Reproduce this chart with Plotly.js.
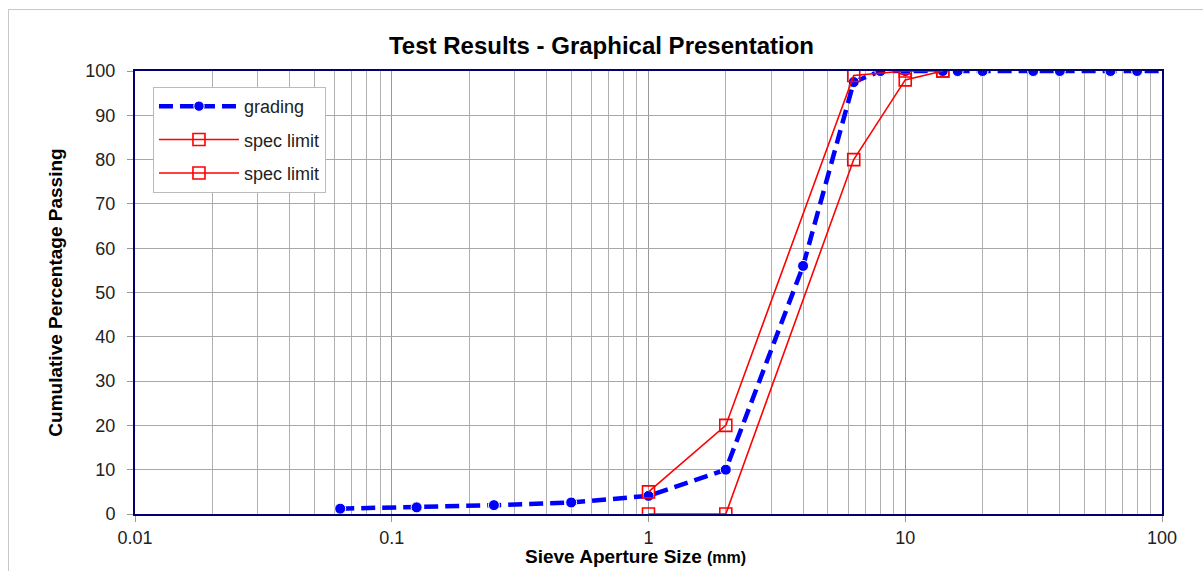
<!DOCTYPE html>
<html>
<head>
<meta charset="utf-8">
<script src="https://cdn.plot.ly/plotly-3.0.1.min.js"></script>
<style>
html,body{margin:0;padding:0;background:#fff;}
#wrap{position:relative;width:1203px;height:571px;overflow:hidden;}
#frame{position:absolute;left:8px;top:9px;width:1300px;height:700px;border-top:1px solid #c8c8c8;border-left:1px solid #c8c8c8;}
#chart{position:absolute;left:0;top:0;width:1203px;height:571px;}
</style>
</head>
<body>
<div id="wrap"><div id="frame"></div><div id="chart"></div></div>
<script>
// Data
const sieveSizes = [0.063, 0.125, 0.25, 0.5, 1, 2, 4, 6.3, 8, 10, 14, 16, 20, 31.5, 40, 63, 80, 100];
const grading    = [1.2, 1.5, 2.0, 2.6, 4.1, 10, 56, 97.5, 100, 100, 100, 100, 100, 100, 100, 100, 100, 100];
const specSizes  = [1, 2, 6.3, 10, 14];
const specUpper  = [5, 20, 99, 100, 100];
const specLower  = [0, 0, 80, 98, 100];
const xTickVals  = [0.01, 0.1, 1, 10, 100];
const xTickText  = ['0.01', '0.1', '1', '10', '100'];

const minorVals = [];
for (let e = -2; e < 2; e++) {
  for (let d = 2; d <= 9; d++) minorVals.push(d * Math.pow(10, e));
}

const font = 'Liberation Sans, Arial, sans-serif';

const traces = [
  {
    x: sieveSizes, y: grading, name: 'grading', type: 'scatter', mode: 'lines+markers',
    line: {color: '#0000ff', width: 4.5, dash: '14px,7px'},
    marker: {color: '#0000ff', opacity: 1, size: sieveSizes.map(s => (s >= 100 ? 0 : 11)), symbol: 'circle'},
    legendgroup: 'g1'
  },
  {
    x: specSizes, y: specUpper, name: 'spec limit', type: 'scatter', mode: 'lines+markers',
    line: {color: '#ff0000', width: 1.6},
    marker: {color: '#ff0000', size: 12, symbol: 'square-open', line: {width: 1.6}},
    legendgroup: 'g2'
  },
  {
    x: specSizes, y: specLower, name: 'spec limit', type: 'scatter', mode: 'lines+markers',
    line: {color: '#ff0000', width: 1.6},
    marker: {color: '#ff0000', size: 12, symbol: 'square-open', line: {width: 1.6}},
    legendgroup: 'g3'
  }
];

const layout = {
  width: 1203, height: 571,
  paper_bgcolor: 'rgba(0,0,0,0)', plot_bgcolor: '#ffffff',
  margin: {l: 135, r: 41, t: 71, b: 57},
  font: {family: font, color: '#111111'},
  title: {
    text: '<b>Test Results - Graphical Presentation</b>',
    font: {family: font, size: 24, color: '#000000'},
    x: 0.5, xanchor: 'center', y: 0.92, yanchor: 'middle'
  },
  xaxis: {
    type: 'log', range: [-2, 2],
    tickmode: 'array', tickvals: xTickVals, ticktext: xTickText,
    tickfont: {family: font, size: 18, color: '#222222'},
    ticks: 'outside', ticklen: 6, tickcolor: '#999999',
    showgrid: true, gridcolor: '#999999', gridwidth: 1,
    minor: {tickmode: 'array', tickvals: minorVals, showgrid: true, gridcolor: '#b0b0b0', gridwidth: 1, ticks: ''},
    showline: true, linecolor: '#000070', linewidth: 2, mirror: true,
    zeroline: false
  },
  yaxis: {
    range: [0, 100], dtick: 10, tick0: 0,
    tickfont: {family: font, size: 18, color: '#222222'},
    ticks: 'outside', ticklen: 6, tickcolor: '#999999', ticklabelstandoff: 8,
    showgrid: true, gridcolor: '#a8a8a8', gridwidth: 1,
    showline: true, linecolor: '#000070', linewidth: 2, mirror: true,
    zeroline: false,
    title: {
      text: '<b>Cumulative Percentage Passing</b>',
      font: {family: font, size: 19, color: '#000000'},
      standoff: 18
    }
  },
  annotations: [{
    text: '<b>Sieve Aperture Size <span style="font-size:16px">(mm)</span></b>',
    font: {family: font, size: 19, color: '#000000'},
    xref: 'paper', yref: 'paper',
    x: (635 - 135) / 1027, y: -(556 - 514) / 443,
    xanchor: 'center', yanchor: 'middle', showarrow: false
  }],
  legend: {
    x: 0.0175, y: 0.964, xanchor: 'left', yanchor: 'top',
    bgcolor: '#ffffff', bordercolor: '#bbbbbb', borderwidth: 1,
    font: {family: font, size: 18, color: '#222222'},
    tracegroupgap: 7, itemwidth: 80
  },
  showlegend: true
};

Plotly.newPlot('chart', traces, layout, {displayModeBar: false, staticPlot: true});
</script>
</body>
</html>
